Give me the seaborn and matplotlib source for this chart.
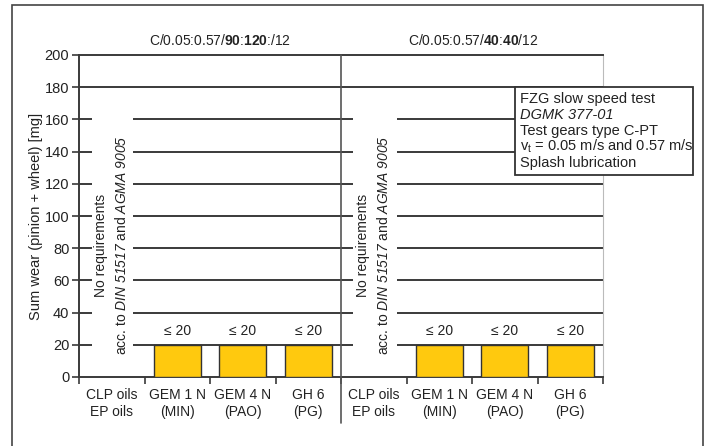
import numpy as np
import pandas as pd
import matplotlib.pyplot as plt
from matplotlib.patches import Rectangle
import seaborn as sns

# Data
oil_types = ["CLP oils\nEP oils", "GEM 1 N\n(MIN)", "GEM 4 N\n(PAO)", "GH 6\n(PG)"]
panel_titles = [r"C/0.05:0.57/$\mathbf{90}$:$\mathbf{120}$:/12",
                r"C/0.05:0.57/$\mathbf{40}$:$\mathbf{40}$/12"]
wear_limit_9012 = [None, 20, 20, 20]
wear_limit_4040 = [None, 20, 20, 20]
y_ticks = [0, 20, 40, 60, 80, 100, 120, 140, 160, 180, 200]
note_lines = ["FZG slow speed test", "DGMK 377-01", "Test gears type C-PT",
              r"v$_\mathrm{t}$ = 0.05 m/s and 0.57 m/s", "Splash lubrication"]
no_req_text = ("No requirements\n"
               r"acc. to $\mathsf{DIN\ 51517}$ and $\mathsf{AGMA\ 9005}$")

sns.set_style("white")
plt.rcParams['font.family'] = ['Liberation Sans', 'DejaVu Sans']
plt.rcParams['mathtext.fontset'] = 'custom'
plt.rcParams['mathtext.rm'] = 'Liberation Sans'
plt.rcParams['mathtext.it'] = 'Liberation Sans:italic'
plt.rcParams['mathtext.sf'] = 'Liberation Sans:italic'   # italic incl. digits
plt.rcParams['mathtext.bf'] = 'Liberation Sans:bold'

W, H = 706, 446
TXT = "#222222"
LINE = "#3a3a3a"

# build table: 8 slots (4 per panel)
slots, rows = [], []
for p, limits in enumerate([wear_limit_9012, wear_limit_4040]):
    for j, v in enumerate(limits):
        key = f"{p}-{j}"
        slots.append(key)
        if v is not None:
            rows.append({"slot": key, "wear": v})
df = pd.DataFrame(rows)

fig = plt.figure(figsize=(W / 100, H / 100), dpi=100)
ax = fig.add_axes([79 / W, 1 - 377 / H, 524 / W, 322 / H])

sns.barplot(data=df, x="slot", y="wear", order=slots, color="#FFC90E",
            edgecolor="#333333", linewidth=1.0, width=0.72, saturation=1, ax=ax, zorder=3)

for c in ax.containers:
    ax.bar_label(c, labels=[f"≤ {b.get_height():.0f}" for b in c], padding=5,
                 fontsize=10, color=TXT)

ax.set_xlim(-0.5, 7.5)
ax.set_ylim(0, 200)
ax.set_yticks(y_ticks)
ax.tick_params(axis='y', direction='out', length=5, width=1.2, color=LINE,
               labelsize=10.5, labelcolor=TXT, pad=2, left=True)
ax.set_xticks(range(len(slots)))
ax.set_xticklabels(oil_types * 2, fontsize=10, color=TXT, linespacing=1.25)
ax.tick_params(axis='x', length=0, pad=8)
ax.set_xticks(np.arange(-0.5, 8, 1), minor=True)
ax.tick_params(axis='x', which='minor', direction='out', length=5, width=1.2,
               color=LINE, bottom=True)
ax.set_xlabel("")
ax.set_ylabel("Sum wear (pinion + wheel) [mg]", fontsize=10.5, color=TXT, labelpad=1)

for side in ["left", "bottom", "top"]:
    ax.spines[side].set_color(LINE)
    ax.spines[side].set_linewidth(1.4)
ax.spines["right"].set_color("#bbbbbb")
ax.spines["right"].set_linewidth(0.8)

# horizontal lines (gaps left for rotated notes)
ax.axhline(180, color=LINE, lw=1.4, zorder=2)
for yv in y_ticks[1:-2]:
    ax.hlines(yv, -0.5, -0.3, color=LINE, lw=1.4, zorder=2)
    ax.hlines(yv, 0.32, 3.68, color=LINE, lw=1.4, zorder=2)
    ax.hlines(yv, 4.35, 7.5, color=LINE, lw=1.4, zorder=2)

# panel divider
ax.axvline(3.5, ymin=-46 / 322, ymax=1, color="#555555", lw=1.2, clip_on=False, zorder=4)

# rotated notes
for xc in [0, 4]:
    ax.text(xc, 82, no_req_text, rotation=90, ha='center', va='center',
            multialignment='center', fontsize=10, color=TXT, linespacing=1.5)

# panel titles
for xc, title in zip([220, 473], panel_titles):
    fig.text(xc / W, 1 - 45 / H, title, fontsize=10, color=TXT,
             ha='center', va='baseline')

# outer frame
fig.patches.append(Rectangle((12 / W, -0.05), (703 - 12) / W, 1.05 - 5 / H,
                             transform=fig.transFigure, fill=False,
                             edgecolor="#444444", lw=1.2))

# info box
fig.patches.append(Rectangle((515 / W, 1 - 175 / H), (693 - 515) / W, (175 - 87) / H,
                             transform=fig.transFigure, facecolor="white",
                             edgecolor="#333333", lw=1.3, zorder=5))
for i, line in enumerate(note_lines):
    fig.text(520 / W, 1 - (103 + 16 * i) / H, line, fontsize=10.5, color=TXT,
             style='italic' if i == 1 else 'normal', ha='left', va='baseline', zorder=6)

fig.savefig("out.png", dpi=100)
